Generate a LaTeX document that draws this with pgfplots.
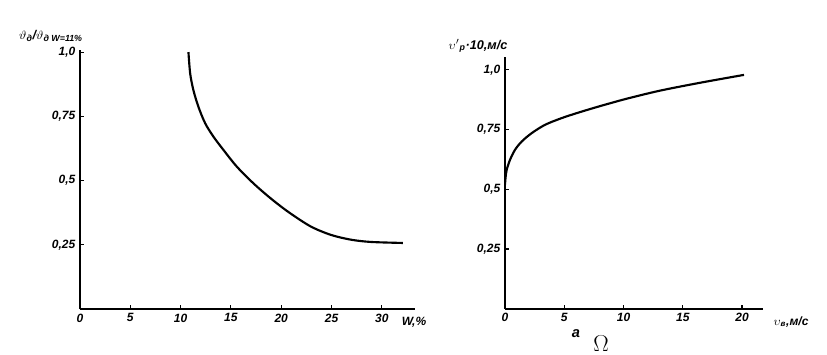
\documentclass[border=0pt]{standalone}
\usepackage{fontspec}
\setmainfont{Liberation Sans}
\usepackage{pgfplots}
\pgfplotsset{compat=1.18}
\pgfplotsset{
  gost/.style={
    scale only axis, anchor=south west,
    axis x line=bottom, axis y line=left,
    axis line style={-, line width=1.2pt},
    tick align=inside, major tick length=3pt,
    tick style={line width=0.8pt, black},
    ymin=0, xmin=0,
    ytick={0.25,0.5,0.75,1.0},
    yticklabels={{0,25},{0,5},{0,75},{1,0}},
    tick label style={font=\fontsize{9}{10}\selectfont\bfseries\itshape},
    cycle list={{black, no marks}},
    every axis plot/.append style={line width=1.6pt, smooth, tension=0.5},
  }
}
\newcommand{\sub}[1]{\textsubscript{#1}}
\begin{document}
\begin{tikzpicture}
\path[use as bounding box] (0pt,0pt) rectangle (620.25pt,265.5pt);
\begin{axis}[gost, at={(60pt,33.75pt)}, width=251.25pt, height=194.25pt,
  xmax=33.3, ymax=1.008,
  xtick={0,5,10,15,20,25,30}, xticklabels={0,5,10,15,20,25,30}]
\addplot coordinates {
(10.78,1.0) (10.95,0.917) (11.27,0.852) (11.77,0.787) (12.44,0.723)
(13.26,0.671) (14.26,0.619) (15.59,0.554) (17.24,0.489) (18.91,0.432)
(20.7,0.378) (22.9,0.322) (24.9,0.289) (26.9,0.270) (28.9,0.261) (32.1,0.257)};
\end{axis}
\begin{axis}[gost, at={(378.75pt,33.975pt)}, width=193.5pt, height=188.8pt,
  xmax=21.77, ymax=1.054,
  xtick={0,5,10,15,20}, xticklabels={0,5,10,15,20}]
\addplot coordinates {
(0,0.52) (0.05,0.55) (0.14,0.581) (0.42,0.623) (0.84,0.665) (1.41,0.700)
(2.25,0.735) (3.38,0.770) (4.78,0.798) (6.19,0.821) (7.59,0.842) (9.0,0.862)
(10.41,0.881) (13.08,0.913) (16.46,0.946) (20.17,0.979)};
\end{axis}
\begin{scope}[x=0.75pt,y=0.75pt]
\node[font=\fontsize{9.5}{10}\selectfont\bfseries\itshape] at (51,318) {$\vartheta$\sub{д}/$\vartheta$\sub{д W=11\%}};
\node[font=\fontsize{9.5}{10}\selectfont\bfseries\itshape] at (478,308) {$\upsilon'$\sub{р}·10,м/с};
\node[font=\fontsize{9}{10}\selectfont\bfseries\itshape] at (414,32) {W,\%};
\node[font=\fontsize{9}{10}\selectfont\bfseries\itshape] at (791,32) {$\upsilon$\sub{в},м/с};
\node[font=\fontsize{11}{12}\selectfont\bfseries\itshape] at (576,20) {a};
\node[font=\fontsize{16}{16}\selectfont\bfseries] at (601,10) {$\Omega$};
\end{scope}
\end{tikzpicture}
\end{document}
